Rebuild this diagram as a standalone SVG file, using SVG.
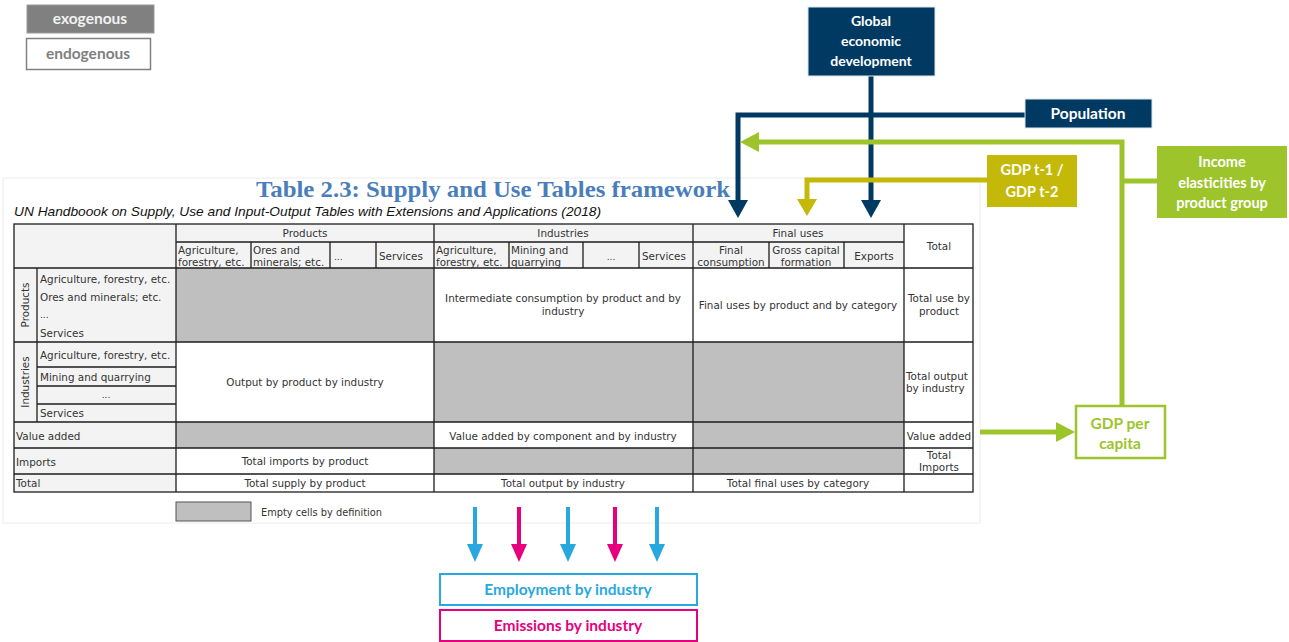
<svg xmlns="http://www.w3.org/2000/svg" width="1289" height="642" viewBox="0 0 1289 642">
<defs>
<style>
.t{font-family:"DejaVu Sans",Verdana,sans-serif;font-size:10.4px;fill:#333}
.c{text-anchor:middle}
.d{font-size:9px}
.hd{fill:#f3f3f3}
.sh{fill:#bfbfbf}
.ln{stroke:#1e1e1e;stroke-width:1.3;fill:none}
.bx{font-family:Lato,"Liberation Sans",sans-serif;font-weight:bold;font-size:14px;text-anchor:middle}
.navy{fill:#003a63}
.nl{stroke:#003a63;stroke-width:5;fill:none}
.gl{stroke:#9dc42b;stroke-width:5;fill:none}
.ol{stroke:#c4b908;stroke-width:5;fill:none}
</style>
</defs>
<rect width="1289" height="642" fill="#fff"/>

<g id="legend-exogenous">
<rect x="27" y="5" width="127" height="28" fill="#808080" stroke="#9a9a9a" stroke-width="1"/>
<text x="90" y="24" class="bx" fill="#f2f2f2" style="font-size:15.5px">exogenous</text>
</g>
<g id="legend-endogenous">
<rect x="26.5" y="38.5" width="124" height="31" fill="#fff" stroke="#808080" stroke-width="1.5"/>
<text x="88" y="59" class="bx" fill="#808080" style="font-size:15.5px">endogenous</text>
</g>

<g id="table">
<rect x="3" y="178" width="977" height="345" fill="#fff" stroke="#ececec" stroke-width="1"/>
<text x="493" y="197" font-family="'Liberation Serif','Times New Roman',serif" font-weight="bold" font-size="24" fill="#4a7ebb" text-anchor="middle" textLength="474" lengthAdjust="spacingAndGlyphs">Table 2.3: Supply and Use Tables framework</text>
<text x="14" y="216" font-family="'Liberation Sans',Arial,sans-serif" font-style="italic" font-size="13" fill="#111" textLength="587" lengthAdjust="spacingAndGlyphs">UN Handboook on Supply, Use and Input-Output Tables with Extensions and Applications (2018)</text>

<rect x="14" y="224" width="890" height="44" class="hd"/>
<rect x="14" y="268" width="162" height="224" class="hd"/>
<rect x="176" y="268" width="258" height="74" class="sh"/>
<rect x="434" y="342" width="470" height="80" class="sh"/>
<rect x="176" y="422" width="258" height="26" class="sh"/>
<rect x="693" y="422" width="211" height="26" class="sh"/>
<rect x="434" y="448" width="470" height="26" class="sh"/>

<rect x="14" y="224" width="959" height="268" class="ln"/>
<path class="ln" d="M14 268H973M14 342H973M14 422H973M14 448H973M14 474H973M176 242H904M37 367H176M37 386H176M37 404H176M176 224V492M434 224V492M693 224V492M904 224V492M37 268V422M251 242V268M330 242V268M376 242V268M509 242V268M583 242V268M639 242V268M769 242V268M844 242V268"/>

<text class="t c" x="305" y="237">Products</text>
<text class="t c" x="563" y="237">Industries</text>
<text class="t c" x="798" y="237">Final uses</text>
<text class="t c" x="939" y="250">Total</text>
<text class="t" x="178" y="254">Agriculture,</text>
<text class="t" x="178" y="266">forestry, etc.</text>
<text class="t" x="253" y="254">Ores and</text>
<text class="t" x="253" y="266">minerals; etc.</text>
<text class="t d" x="334" y="260">...</text>
<text class="t" x="379" y="260">Services</text>
<text class="t" x="436" y="254">Agriculture,</text>
<text class="t" x="436" y="266">forestry, etc.</text>
<text class="t" x="511" y="254">Mining and</text>
<text class="t" x="511" y="266">quarrying</text>
<text class="t c d" x="611" y="260">...</text>
<text class="t" x="642" y="260">Services</text>
<text class="t c" x="731" y="254">Final</text>
<text class="t c" x="731" y="266">consumption</text>
<text class="t c" x="806" y="254">Gross capital</text>
<text class="t c" x="806" y="266">formation</text>
<text class="t c" x="874" y="260">Exports</text>

<text class="t c" transform="translate(29,305) rotate(-90)">Products</text>
<text class="t c" transform="translate(29,382) rotate(-90)">Industries</text>
<text class="t" x="40" y="283">Agriculture, forestry, etc.</text>
<text class="t" x="40" y="301">Ores and minerals; etc.</text>
<text class="t d" x="40" y="318">...</text>
<text class="t" x="40" y="337">Services</text>
<text class="t" x="40" y="359">Agriculture, forestry, etc.</text>
<text class="t" x="40" y="381">Mining and quarrying</text>
<text class="t c d" x="106" y="398">...</text>
<text class="t" x="40" y="417">Services</text>
<text class="t" x="16" y="440">Value added</text>
<text class="t" x="16" y="466">Imports</text>
<text class="t" x="16" y="487">Total</text>

<text class="t c" x="563" y="302">Intermediate consumption by product and by</text>
<text class="t c" x="563" y="315">industry</text>
<text class="t c" x="798" y="309">Final uses by product and by category</text>
<text class="t c" x="939" y="302">Total use by</text>
<text class="t c" x="939" y="315">product</text>
<text class="t c" x="305" y="386">Output by product by industry</text>
<text class="t" x="906" y="380">Total output</text>
<text class="t" x="906" y="392">by industry</text>
<text class="t c" x="563" y="440">Value added by component and by industry</text>
<text class="t c" x="939" y="440">Value added</text>
<text class="t c" x="305" y="465">Total imports by product</text>
<text class="t c" x="939" y="459">Total</text>
<text class="t c" x="939" y="471">Imports</text>
<text class="t c" x="305" y="487">Total supply by product</text>
<text class="t c" x="563" y="487">Total output by industry</text>
<text class="t c" x="798" y="487">Total final uses by category</text>

<rect x="176" y="502" width="75" height="19" class="sh" stroke="#555" stroke-width="1"/>
<text class="t" x="261" y="516" style="font-size:9.8px">Empty cells by definition</text>
</g>

<g id="connectors">
<path class="nl" d="M871 76V201"/>
<polygon class="navy" points="861,200 881,200 871,218"/>
<path class="nl" d="M1025 115H738V201"/>
<polygon class="navy" points="728,200 748,200 738,218"/>
<path class="gl" d="M1122 406V142H758M1122 181H1157"/>
<polygon fill="#9dc42b" points="759,132 759,152 740,142"/>
<path class="ol" d="M987 180H807V200"/>
<polygon fill="#c4b908" points="797,199 817,199 807,216"/>
<path class="gl" d="M980 432H1058"/>
<polygon fill="#9dc42b" points="1056,422 1056,442 1075,432"/>
<g stroke-width="4">
<path d="M475 507V546" stroke="#29a8e0"/>
<path d="M519 507V546" stroke="#e6007e"/>
<path d="M568 507V546" stroke="#29a8e0"/>
<path d="M615 507V546" stroke="#e6007e"/>
<path d="M657 507V546" stroke="#29a8e0"/>
</g>
<polygon fill="#29a8e0" points="467,544 483,544 475,562"/>
<polygon fill="#e6007e" points="511,544 527,544 519,562"/>
<polygon fill="#29a8e0" points="560,544 576,544 568,562"/>
<polygon fill="#e6007e" points="607,544 623,544 615,562"/>
<polygon fill="#29a8e0" points="649,544 665,544 657,562"/>
</g>

<g id="global-economic-development">
<rect x="808" y="7" width="127" height="69" class="navy" stroke="#dfe6ec" stroke-width="1"/>
<text class="bx" fill="#fff" x="871" y="26">Global</text>
<text class="bx" fill="#fff" x="871" y="46">economic</text>
<text class="bx" fill="#fff" x="871" y="66">development</text>
</g>
<g id="population">
<rect x="1025" y="99" width="127" height="29" class="navy" stroke="#dfe6ec" stroke-width="1"/>
<text class="bx" fill="#fff" x="1088" y="119" style="font-size:15.5px">Population</text>
</g>
<g id="gdp-lag">
<rect x="987" y="155" width="90" height="52" fill="#c4b908"/>
<text class="bx" fill="#fff" x="1032" y="175" style="font-size:14.5px">GDP t-1 /</text>
<text class="bx" fill="#fff" x="1032" y="197" style="font-size:14.5px">GDP t-2</text>
</g>
<g id="income-elasticities">
<rect x="1157" y="146" width="130" height="72" fill="#9dc42b"/>
<text class="bx" fill="#fff" x="1222" y="167" style="font-size:14.5px">Income</text>
<text class="bx" fill="#fff" x="1222" y="188" style="font-size:14.5px">elasticities by</text>
<text class="bx" fill="#fff" x="1222" y="208" style="font-size:14.5px">product group</text>
</g>
<g id="gdp-per-capita">
<rect x="1076" y="406" width="89" height="52" fill="#fff" stroke="#9dc42b" stroke-width="2.5"/>
<text class="bx" fill="#9dc42b" x="1120" y="429" style="font-size:15.5px">GDP per</text>
<text class="bx" fill="#9dc42b" x="1120" y="449" style="font-size:15.5px">capita</text>
</g>
<g id="employment">
<rect x="440" y="574" width="257" height="31" fill="#fff" stroke="#29a8e0" stroke-width="2"/>
<text class="bx" fill="#29a8e0" x="568" y="595" style="font-size:15.5px">Employment by industry</text>
</g>
<g id="emissions">
<rect x="440" y="610" width="257" height="31" fill="#fff" stroke="#e6007e" stroke-width="2"/>
<text class="bx" fill="#e6007e" x="568" y="631" style="font-size:15.5px">Emissions by industry</text>
</g>
</svg>
